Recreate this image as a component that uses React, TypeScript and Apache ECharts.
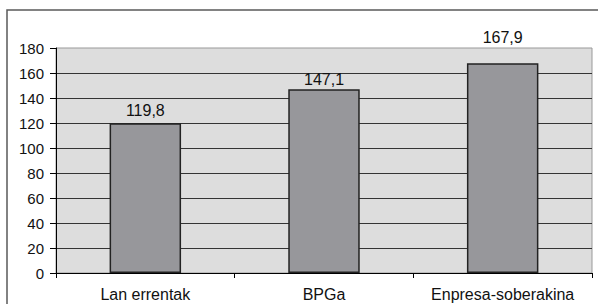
import React, { useEffect, useRef } from "react";
import * as echarts from "echarts";

const categories = ["Lan errentak", "BPGa", "Enpresa-soberakina"];
const values = [119.8, 147.1, 167.9];
const yTicks = { min: 0, max: 180, interval: 20 };

export default function App() {
  const ref = useRef<HTMLDivElement>(null);
  useEffect(() => {
    document.body.style.margin = "0";
    const chart = echarts.init(ref.current!, null, { renderer: "svg" });
    const font = "Liberation Sans, Arial, sans-serif";
    const labelDistances = [5, 2, 18];
    chart.setOption({
      animation: false,
      backgroundColor: "#ffffff",
      graphic: [
        {
          type: "rect",
          shape: { x: 7, y: 10, width: 600, height: 300 },
          style: { fill: "none", stroke: "#5a5a5a", lineWidth: 1.5 },
          z: 0,
        },
      ],
      grid: {
        left: 56,
        top: 48,
        right: 6,
        bottom: 31,
        show: true,
        backgroundColor: "#dddddd",
        borderColor: "#999999",
        borderWidth: 1,
      },
      xAxis: {
        type: "category",
        data: categories,
        axisLine: { show: true, lineStyle: { color: "#000000", width: 1 } },
        axisTick: { show: true, length: 5, lineStyle: { color: "#000000" } },
        axisLabel: {
          interval: 0,
          hideOverlap: false,
          color: "#111111",
          fontFamily: font,
          fontSize: 16,
          margin: 13,
        },
      },
      yAxis: {
        type: "value",
        min: yTicks.min,
        max: yTicks.max,
        interval: yTicks.interval,
        axisLine: { show: true, lineStyle: { color: "#000000", width: 1 } },
        axisTick: { show: true, length: 6, lineStyle: { color: "#000000" } },
        axisLabel: { color: "#111111", fontFamily: font, fontSize: 15, margin: 12 },
        splitLine: { show: true, showMaxLine: false, lineStyle: { color: "#333333", width: 1 } },
      },
      series: [
        {
          type: "bar",
          data: values.map((v, i) => ({
            value: v,
            label: { distance: labelDistances[i] },
          })),
          barWidth: "40%",
          itemStyle: { color: "#97979b", borderColor: "#222222", borderWidth: 1.5 },
          label: {
            show: true,
            position: "top",
            color: "#111111",
            fontFamily: font,
            fontSize: 16,
            formatter: (p: any) => String(p.value).replace(".", ","),
          },
        },
      ],
    });
    return () => chart.dispose();
  }, []);
  return <div ref={ref} style={{ width: 598, height: 304 }} />;
}
